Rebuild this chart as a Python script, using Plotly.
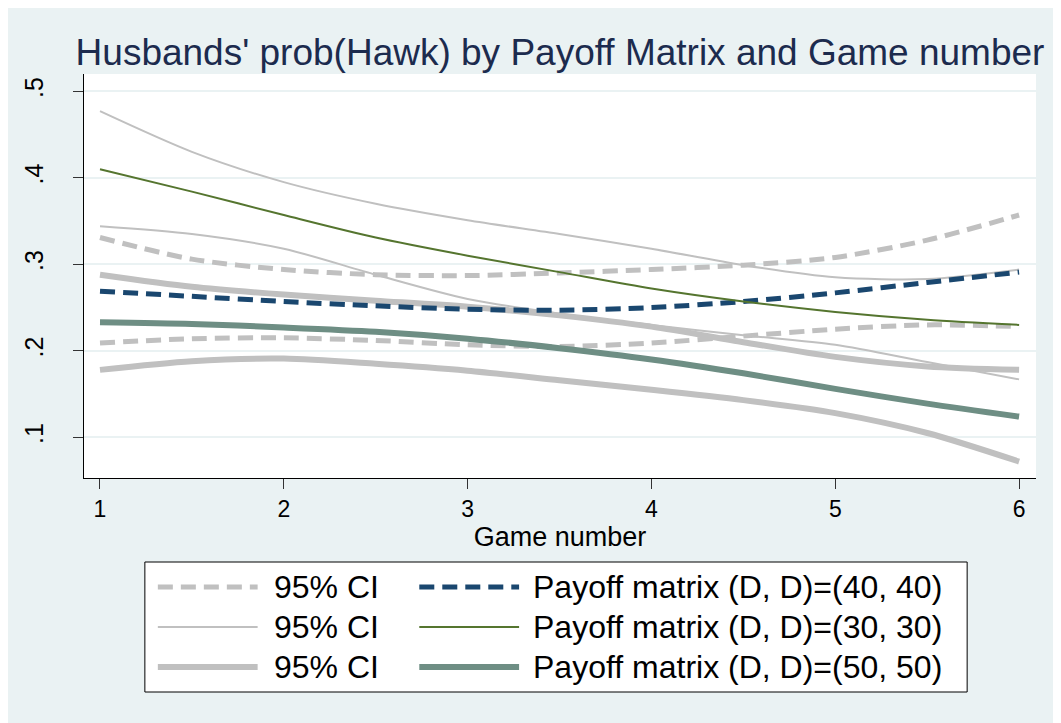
import plotly.graph_objects as go

# ---- data ----
game = [1, 1.5, 2, 2.5, 3, 3.5, 4, 4.5, 5, 5.5, 6]

# Payoff matrix (D, D)=(40, 40)  -- dashed
p40 = [0.269, 0.263, 0.257, 0.252, 0.248, 0.247, 0.250, 0.257, 0.267, 0.279, 0.291]
p40_hi = [0.331, 0.306, 0.294, 0.288, 0.287, 0.290, 0.294, 0.299, 0.308, 0.328, 0.357]
p40_lo = [0.209, 0.214, 0.215, 0.212, 0.207, 0.205, 0.209, 0.217, 0.225, 0.230, 0.228]

# Payoff matrix (D, D)=(30, 30)  -- thin
p30 = [0.410, 0.384, 0.357, 0.331, 0.310, 0.291, 0.272, 0.257, 0.245, 0.236, 0.230]
p30_hi = [0.477, 0.430, 0.395, 0.370, 0.351, 0.335, 0.318, 0.299, 0.285, 0.283, 0.294]
p30_lo = [0.344, 0.335, 0.318, 0.288, 0.260, 0.243, 0.230, 0.218, 0.207, 0.187, 0.167]

# Payoff matrix (D, D)=(50, 50)  -- thick
p50 = [0.233, 0.231, 0.227, 0.222, 0.214, 0.203, 0.190, 0.174, 0.156, 0.139, 0.124]
p50_hi = [0.288, 0.274, 0.265, 0.258, 0.251, 0.241, 0.228, 0.210, 0.193, 0.182, 0.178]
p50_lo = [0.178, 0.188, 0.191, 0.185, 0.177, 0.166, 0.155, 0.143, 0.128, 0.105, 0.072]

x_ticks = [1, 2, 3, 4, 5, 6]
y_ticks = [0.1, 0.2, 0.3, 0.4, 0.5]
y_tick_labels = [".1", ".2", ".3", ".4", ".5"]

title = "Husbands' prob(Hawk) by Payoff Matrix and Game number"
x_title = "Game number"
ci_label = "95% CI"
labels = ["Payoff matrix (D, D)=(40, 40)",
          "Payoff matrix (D, D)=(30, 30)",
          "Payoff matrix (D, D)=(50, 50)"]

# ---- styles ----
BG = "#EAF2F3"
GRAY = "#C0C0C0"
NAVY = "#1A476F"
GREEN = "#55752F"
TEAL = "#6E8E84"
DASH = "15px,8px"
FONT = "Liberation Sans, Arial, sans-serif"

W, H = 1061, 723
OFF = 8  # page body margin
L, R, T, B = 82 - OFF, 1036 - OFF, 74 - OFF, 478 - OFF


def px(x):
    return (x - OFF - L) / (R - L)


def py(y):
    return (B - (y - OFF)) / (B - T)


styles = [
    (p40_hi, GRAY, 5, DASH), (p40_lo, GRAY, 5, DASH),
    (p30_hi, GRAY, 2, "solid"), (p30_lo, GRAY, 2, "solid"),
    (p50_hi, GRAY, 6, "solid"), (p50_lo, GRAY, 6, "solid"),
    (p40, NAVY, 5, DASH), (p30, GREEN, 2, "solid"), (p50, TEAL, 6, "solid"),
]

fig = go.Figure()
for yv, col, wd, ds in styles:
    fig.add_trace(go.Scatter(x=game, y=yv, mode="lines", showlegend=False,
                             line=dict(color=col, width=wd, dash=ds, shape="spline", smoothing=0.8),
                             hoverinfo="skip"))

fig.update_layout(
    width=W, height=H,
    paper_bgcolor=BG, plot_bgcolor="white",
    margin=dict(l=L, r=W - R, t=T, b=H - B),
    font=dict(family=FONT, color="black"),
    title=dict(text=title, x=(560 - OFF) / W, xanchor="center", y=1 - (52 - OFF) / H,
               yanchor="middle", font=dict(size=37, color="#1C2B4E", family=FONT)),
    showlegend=False,
)
fig.update_xaxes(range=[0.913, 6.092], tickvals=x_ticks, ticks="outside", ticklen=10,
                 tickcolor="#333", showline=True, linecolor="black", linewidth=1,
                 showgrid=False, zeroline=False, tickfont=dict(size=23),
                 title=dict(text=x_title, font=dict(size=27), standoff=4))
fig.update_yaxes(range=[0.053, 0.520], tickvals=y_ticks, ticktext=y_tick_labels,
                 ticks="outside", ticklen=10, tickcolor="#333", tickangle=-90,
                 ticklabelstandoff=20,
                 showline=True, linecolor="black", linewidth=1,
                 showgrid=True, gridcolor=BG, gridwidth=2, zeroline=False,
                 tickfont=dict(size=25))

# ---- manual legend (two columns) ----
fig.add_shape(type="rect", xref="paper", yref="paper",
              x0=px(143), x1=px(967), y0=py(562), y1=py(692),
              line=dict(color="black", width=1), fillcolor="white", layer="above")
rows_y = [587, 627, 667]
ci_styles = [(GRAY, 5, DASH), (GRAY, 2, "solid"), (GRAY, 6, "solid")]
main_styles = [(NAVY, 5, DASH), (GREEN, 2, "solid"), (TEAL, 6, "solid")]
for i, ry in enumerate(rows_y):
    c, w, d = ci_styles[i]
    fig.add_shape(type="line", xref="paper", yref="paper", x0=px(156), x1=px(256),
                  y0=py(ry), y1=py(ry), line=dict(color=c, width=w, dash=d), layer="above")
    fig.add_annotation(xref="paper", yref="paper", x=px(270), y=py(ry), text=ci_label,
                       showarrow=False, xanchor="left", yanchor="middle",
                       font=dict(size=32, color="black"))
    c, w, d = main_styles[i]
    fig.add_shape(type="line", xref="paper", yref="paper", x0=px(418), x1=px(518),
                  y0=py(ry), y1=py(ry), line=dict(color=c, width=w, dash=d), layer="above")
    fig.add_annotation(xref="paper", yref="paper", x=px(530), y=py(ry), text=labels[i],
                       showarrow=False, xanchor="left", yanchor="middle",
                       font=dict(size=32, color="black"))

fig.write_html("out.html")
